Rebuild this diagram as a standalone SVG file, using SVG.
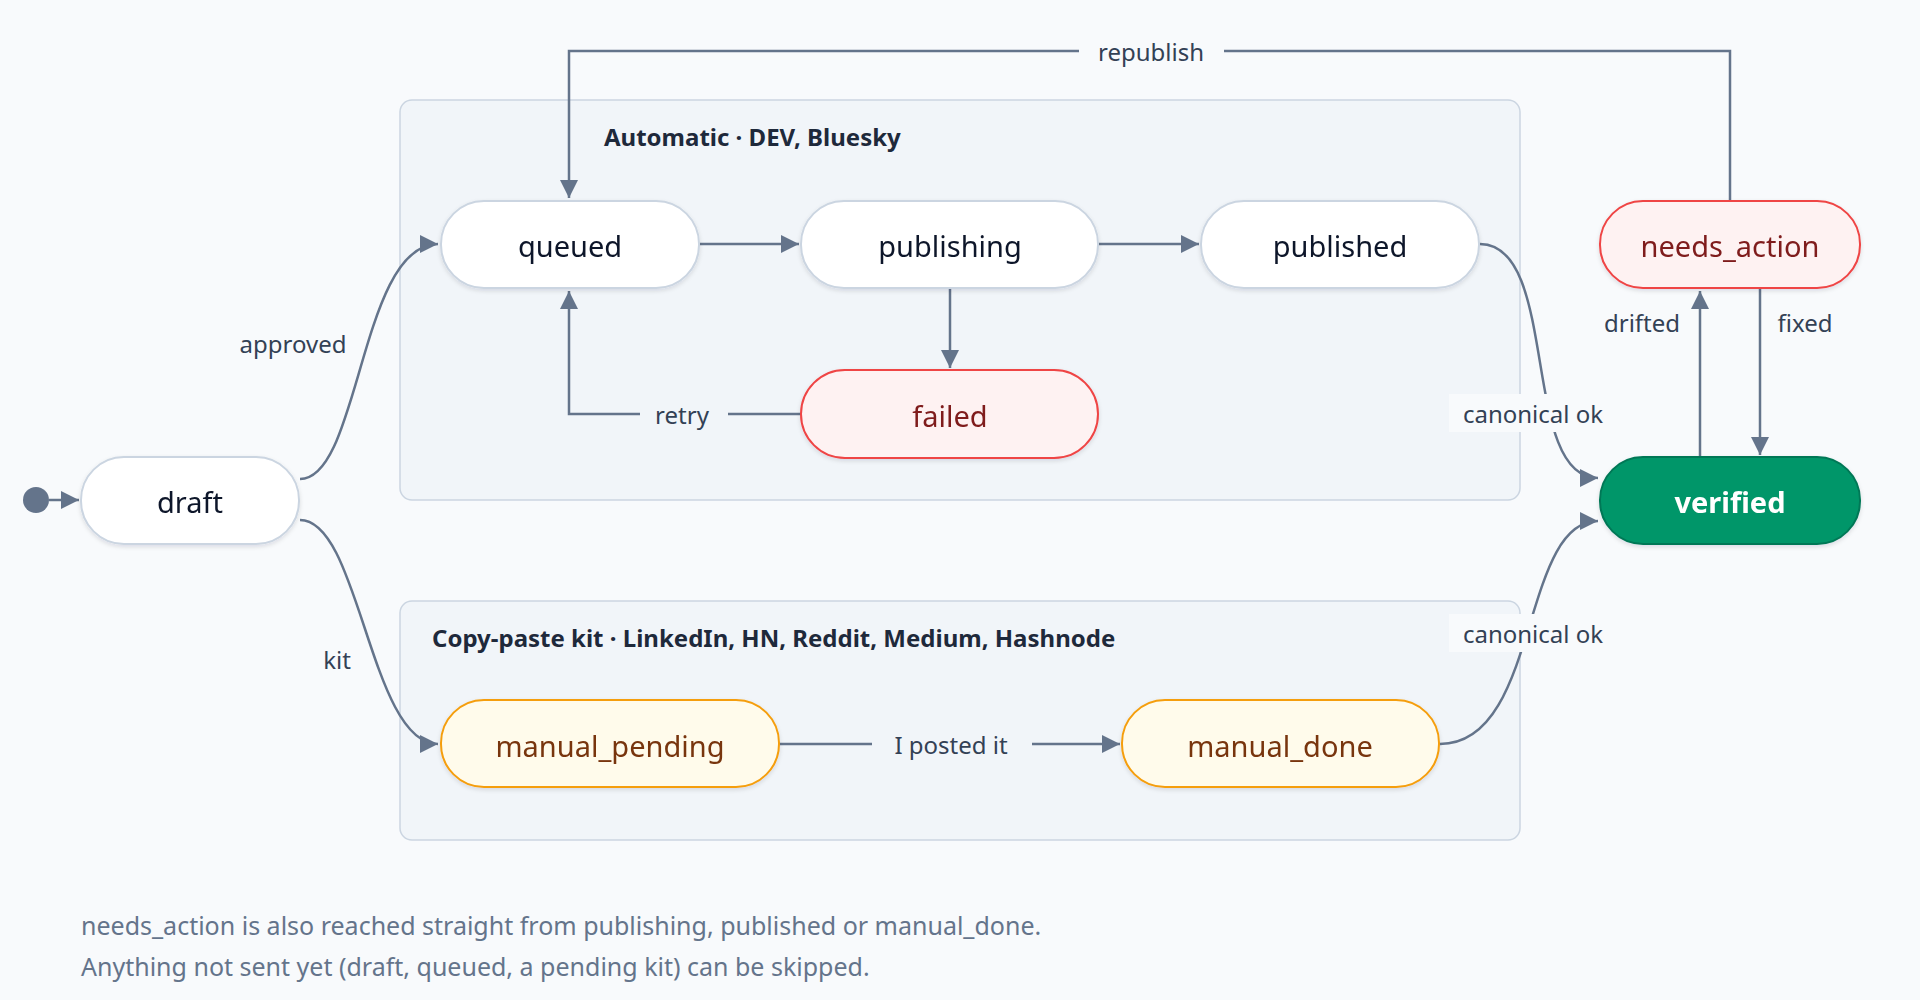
<svg xmlns="http://www.w3.org/2000/svg" width="1920" height="1000" viewBox="0 0 1920 1000">
<style>
.grp{fill:#f1f5f9;stroke:#cbd5e1;stroke-width:1.5}
.gt{font-family:"Noto Sans","Open Sans",sans-serif;font-size:24px;font-weight:bold;fill:#1e293b}
.n{fill:#fff;stroke:#cbd5e1;stroke-width:2}
.nt{font-family:"Noto Sans","Open Sans",sans-serif;font-size:29px;fill:#0f172a;text-anchor:middle;dominant-baseline:central}
.fail{fill:#fef2f2;stroke:#ef4444}
.failt{fill:#7f1d1d}
.man{fill:#fffbeb;stroke:#f59e0b}
.mant{fill:#78350f}
.ver{fill:#059669;stroke:#047857}
.vert{fill:#fff;font-weight:bold}
.e{fill:none;stroke:#64748b;stroke-width:2.5}
.el{font-family:"Noto Sans","Open Sans",sans-serif;font-size:24px;fill:#334155;text-anchor:middle;dominant-baseline:central}
.foot{font-family:"Noto Sans","Open Sans",sans-serif;font-size:25px;fill:#64748b}
</style>
<defs>
<marker id="a" markerWidth="22" markerHeight="22" refX="20" refY="11" orient="auto" markerUnits="userSpaceOnUse"><path d="M2,2 L20,11 L2,20 z" fill="#64748b"/></marker>
<filter id="sh" x="-10%" y="-20%" width="120%" height="150%"><feDropShadow dx="0" dy="2" stdDeviation="2" flood-color="#0f172a" flood-opacity="0.12"/></filter>
</defs>
<rect width="1920" height="1000" fill="#f8fafc"/>
<g id="group-auto"><rect class="grp" x="400" y="100" width="1120" height="400" rx="12"/><text class="gt" x="604" y="146">Automatic · DEV, Bluesky</text></g>
<g id="group-kit"><rect class="grp" x="400" y="601" width="1120" height="239" rx="12"/><text class="gt" x="432" y="647">Copy-paste kit · LinkedIn, HN, Reddit, Medium, Hashnode</text></g>
<g id="connectors">
<circle cx="36" cy="500" r="13" fill="#64748b"/>
<path class="e" d="M49,500 L79,500" marker-end="url(#a)"/>
<path class="e" d="M300,479 C360,479 360,244 438,244" marker-end="url(#a)"/>
<text class="el" x="293" y="343">approved</text>
<path class="e" d="M300,520 C360,520 370,744 438,744" marker-end="url(#a)"/>
<text class="el" x="337" y="659">kit</text>
<path class="e" d="M700,244 L799,244" marker-end="url(#a)"/>
<path class="e" d="M1099,244 L1199,244" marker-end="url(#a)"/>
<path class="e" d="M950,289 L950,368" marker-end="url(#a)"/>
<path class="e" d="M801,414 L728,414 M640,414 L569,414 L569,291" marker-end="url(#a)"/>
<text class="el" x="682" y="414">retry</text>
<path class="e" d="M1480,244 C1560,244 1520,478 1598,478" marker-end="url(#a)"/>
<rect x="1449" y="394" width="170" height="38" fill="#f8fafc"/>
<text class="el" x="1533" y="413">canonical ok</text>
<path class="e" d="M1440,744 C1540,744 1520,521 1598,521" marker-end="url(#a)"/>
<rect x="1449" y="614" width="170" height="38" fill="#f8fafc"/>
<text class="el" x="1533" y="633">canonical ok</text>
<path class="e" d="M780,744 L872,744 M1032,744 L1120,744" marker-end="url(#a)"/>
<text class="el" x="951" y="744">I posted it</text>
<path class="e" d="M1700,457 L1700,291" marker-end="url(#a)"/>
<text class="el" x="1642" y="322">drifted</text>
<path class="e" d="M1760,289 L1760,455" marker-end="url(#a)"/>
<text class="el" x="1805" y="322">fixed</text>
<path class="e" d="M1730,200 L1730,51 L1224,51 M1079,51 L569,51 L569,198" marker-end="url(#a)"/>
<text class="el" x="1151" y="51">republish</text>
</g>
<g id="node-draft" filter="url(#sh)"><rect class="n" x="81" y="457" width="218" height="87" rx="43"/><text class="nt" x="190" y="501">draft</text></g>
<g id="node-queued" filter="url(#sh)"><rect class="n" x="441" y="201" width="258" height="87" rx="43"/><text class="nt" x="570" y="245">queued</text></g>
<g id="node-publishing" filter="url(#sh)"><rect class="n" x="801" y="201" width="297" height="87" rx="43"/><text class="nt" x="950" y="245">publishing</text></g>
<g id="node-published" filter="url(#sh)"><rect class="n" x="1201" y="201" width="278" height="87" rx="43"/><text class="nt" x="1340" y="245">published</text></g>
<g id="node-failed" filter="url(#sh)"><rect class="n fail" x="801" y="370" width="297" height="88" rx="44"/><text class="nt failt" x="950" y="415">failed</text></g>
<g id="node-needs_action" filter="url(#sh)"><rect class="n fail" x="1600" y="201" width="260" height="87" rx="43"/><text class="nt failt" x="1730" y="245">needs_action</text></g>
<g id="node-verified" filter="url(#sh)"><rect class="n ver" x="1600" y="457" width="260" height="87" rx="43"/><text class="nt vert" x="1730" y="501">verified</text></g>
<g id="node-manual_pending" filter="url(#sh)"><rect class="n man" x="441" y="700" width="338" height="87" rx="43"/><text class="nt mant" x="610" y="745">manual_pending</text></g>
<g id="node-manual_done" filter="url(#sh)"><rect class="n man" x="1122" y="700" width="317" height="87" rx="43"/><text class="nt mant" x="1280" y="745">manual_done</text></g>
<g id="footer"><text class="foot" x="81" y="935">needs_action is also reached straight from publishing, published or manual_done.</text><text class="foot" x="81" y="976">Anything not sent yet (draft, queued, a pending kit) can be skipped.</text></g>
</svg>
